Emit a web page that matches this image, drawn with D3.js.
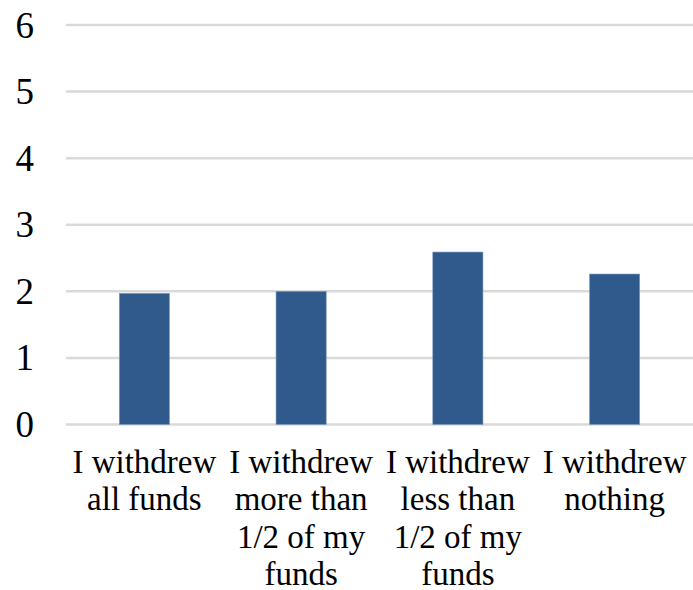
<!DOCTYPE html>
<html>
<head>
<meta charset="utf-8">
<script src="https://cdn.jsdelivr.net/npm/d3@7"></script>
<style>
  html, body { margin: 0; padding: 0; background: #fff; font-family: "Liberation Serif", serif; }
  svg { display: block; font-family: "Liberation Serif", serif; }
  svg text, svg tspan { font-family: "Liberation Serif", serif !important; }
</style>
</head>
<body>
<script>
const categories = [
  ["I withdrew", "all funds"],
  ["I withdrew", "more than", "1/2 of my", "funds"],
  ["I withdrew", "less than", "1/2 of my", "funds"],
  ["I withdrew", "nothing"]
];
const values = [1.97, 2.0, 2.59, 2.26];
const yTicks = [0, 1, 2, 3, 4, 5, 6];

(function () {
const W = 693, H = 590;
const mLeft = 66, mRight = 693, mTop = 25, mBottom = 424.5;

const svg = d3.select("body").append("svg").attr("width", W).attr("height", H)
  .style("font-family", "\"Liberation Serif\", serif");

const x = d3.scaleBand()
  .domain(categories.map((d, i) => i))
  .range([mLeft, mRight])
  .paddingInner(0.68)
  .paddingOuter(0.34);

const y = d3.scaleLinear().domain([0, 6]).range([mBottom, mTop]);

svg.append("g").selectAll("line").data(yTicks).join("line")
  .attr("x1", mLeft).attr("x2", mRight)
  .attr("y1", d => y(d)).attr("y2", d => y(d))
  .attr("stroke", "#d9d9d9").attr("stroke-width", 2.5);

svg.append("g").selectAll("text").data(yTicks).join("text")
  .attr("x", 34).attr("y", d => y(d) + 12.5)
  .attr("text-anchor", "end")
  .style("font-family", "\"Liberation Serif\", serif")
  .style("font-size", "37px")
  .attr("fill", "#000")
  .text(d => d);

svg.append("g").selectAll("rect").data(values).join("rect")
  .attr("x", (d, i) => x(i))
  .attr("width", x.bandwidth())
  .attr("y", d => y(d))
  .attr("height", d => y(0) - y(d))
  .attr("fill", "#2F5A8B")
  .attr("stroke", "#7f9cc0").attr("stroke-width", 0.6);

const lbl = svg.append("g").selectAll("text").data(categories).join("text")
  .attr("text-anchor", "middle")
  .style("font-family", "\"Liberation Serif\", serif")
  .style("font-size", "33px")
  .attr("fill", "#000");
lbl.each(function (lines, i) {
  const cx = x(i) + x.bandwidth() / 2;
  d3.select(this).selectAll("tspan").data(lines).join("tspan")
    .attr("x", cx)
    .attr("y", (d, j) => 473 + j * 37.3)
    .text(d => d);
});
})();
</script>
</body>
</html>
